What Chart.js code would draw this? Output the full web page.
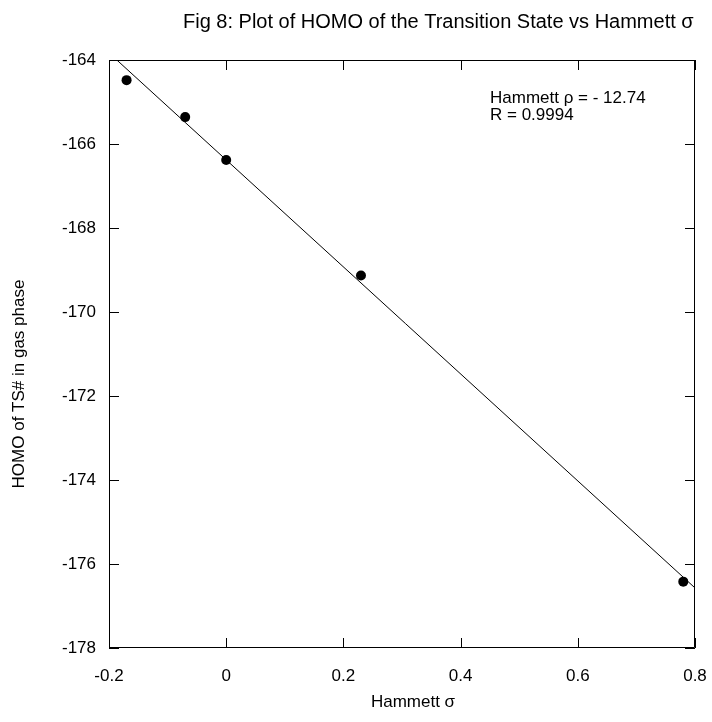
<!DOCTYPE html>
<html>
<head>
<meta charset="utf-8">
<title>HOMO of TS vs Hammett sigma</title>
<script src="https://cdn.jsdelivr.net/npm/chart.js@4.4.1/dist/chart.umd.min.js"></script>
<style>
  html, body { margin: 0; padding: 0; background: #fff; }
  canvas { display: block; }
</style>
</head>
<body>
<canvas id="homoChart" width="712" height="722"></canvas>
<script>
// Substituent constants and HOMO energies of the transition state
const sigma = [-0.17, -0.07, 0, 0.23, 0.78];
const homo = [-164.48, -165.36, -166.38, -169.13, -176.42];

// End points of the regression line (rho = -12.74)
const fitSigma = [-0.2, 0.8];
const fitHomo = [-163.83, -176.57];

// Axis ticks
const xTicks = [-0.2, 0, 0.2, 0.4, 0.6, 0.8];
const yTicks = [-178, -176, -174, -172, -170, -168, -166, -164];

const FONT = '"Liberation Sans", Arial, sans-serif';

// Frame with inward tick marks on all four sides, plus the texts
const framePlugin = {
  id: 'frame',
  afterDatasetsDraw(chart) {
    const ctx = chart.ctx;
    const a = chart.chartArea;
    const xs = chart.scales.x;
    const ys = chart.scales.y;
    const tick = 10;

    ctx.save();
    ctx.strokeStyle = '#000';
    ctx.lineWidth = 1;
    ctx.beginPath();
    ctx.rect(a.left + 0.5, a.top + 0.5, a.right - a.left - 1, a.bottom - a.top - 1);

    xTicks.forEach(v => {
      const px = Math.round(xs.getPixelForValue(v)) + 0.5;
      ctx.moveTo(px, a.bottom);
      ctx.lineTo(px, a.bottom - tick);
      ctx.moveTo(px, a.top);
      ctx.lineTo(px, a.top + tick);
    });
    yTicks.forEach(v => {
      const py = Math.round(ys.getPixelForValue(v)) + 0.5;
      ctx.moveTo(a.left, py);
      ctx.lineTo(a.left + tick, py);
      ctx.moveTo(a.right, py);
      ctx.lineTo(a.right - tick, py);
    });
    ctx.stroke();

    ctx.fillStyle = '#000';
    ctx.textBaseline = 'middle';

    // title
    ctx.font = '20px ' + FONT;
    ctx.textAlign = 'left';
    ctx.fillText('Fig 8: Plot of HOMO of the Transition State vs Hammett σ', 183, 22);

    // regression details
    ctx.font = '17px ' + FONT;
    ctx.fillText('Hammett ρ = - 12.74', 490, 98);
    ctx.fillText('R = 0.9994', 490, 115);

    // axis titles
    ctx.textAlign = 'center';
    ctx.fillText('Hammett σ', 413, 702);

    ctx.translate(19, 384);
    ctx.rotate(-Math.PI / 2);
    ctx.fillText('HOMO of TS# in gas phase', 0, 0);
    ctx.restore();
  }
};

const ctx = document.getElementById('homoChart').getContext('2d');

const chart = new Chart(ctx, {
  type: 'scatter',
  data: {
    datasets: [
      {
        label: 'HOMO',
        data: sigma.map((s, i) => ({ x: s, y: homo[i] })),
        backgroundColor: '#000',
        borderWidth: 0,
        pointRadius: 5,
        pointHoverRadius: 5
      },
      {
        label: 'fit',
        type: 'line',
        data: fitSigma.map((s, i) => ({ x: s, y: fitHomo[i] })),
        borderColor: '#000',
        borderWidth: 1,
        pointRadius: 0,
        fill: false
      }
    ]
  },
  options: {
    responsive: false,
    animation: false,
    devicePixelRatio: 1,
    layout: { padding: { top: 60, right: 17, left: 0, bottom: 0 } },
    plugins: {
      legend: { display: false },
      title: { display: false },
      tooltip: { enabled: false }
    },
    scales: {
      x: {
        type: 'linear',
        min: -0.2,
        max: 0.8,
        afterBuildTicks: s => { s.ticks = xTicks.map(v => ({ value: v })); },
        afterFit: s => { s.height = 74; s.paddingLeft = 0; s.paddingRight = 0; },
        grid: { display: false, drawTicks: false, tickLength: 0 },
        border: { display: false },
        ticks: {
          color: '#000',
          font: { family: FONT, size: 17 },
          padding: 18,
          maxRotation: 0,
          callback: v => (v === 0 ? '0' : v.toFixed(1))
        }
      },
      y: {
        type: 'linear',
        min: -178,
        max: -164,
        afterBuildTicks: s => { s.ticks = yTicks.map(v => ({ value: v })); },
        afterFit: s => { s.width = 109; s.paddingTop = 0; s.paddingBottom = 0; },
        grid: { display: false, drawTicks: false, tickLength: 0 },
        border: { display: false },
        ticks: {
          color: '#000',
          font: { family: FONT, size: 17 },
          padding: 13,
          callback: v => String(v)
        }
      }
    }
  },
  plugins: [framePlugin]
});
</script>
</body>
</html>
